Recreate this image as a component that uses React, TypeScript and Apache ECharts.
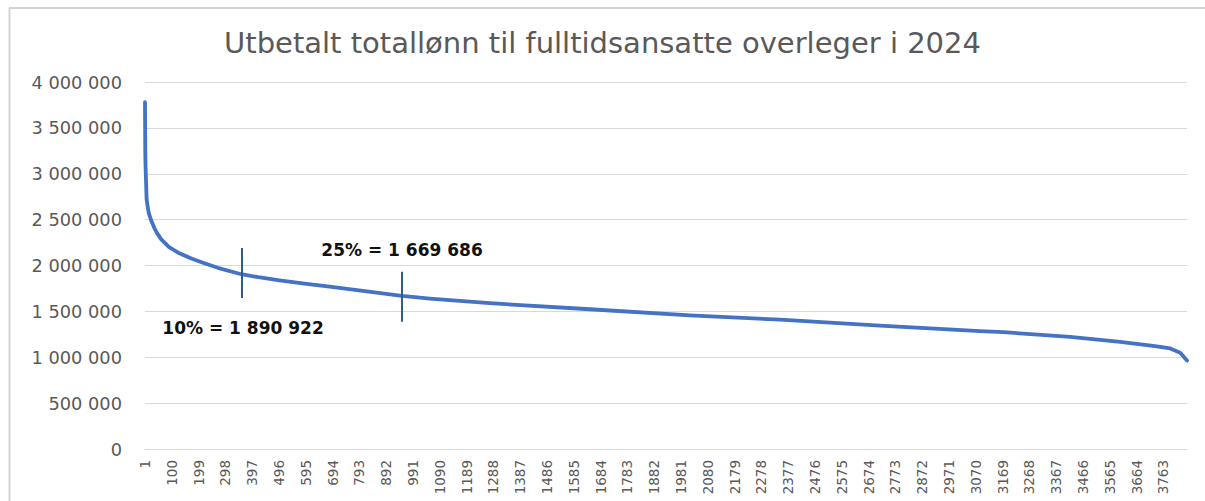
import React, { useEffect, useRef } from "react";
import * as echarts from "echarts";

const TITLE = "Utbetalt totallønn til fulltidsansatte overleger i 2024";
const COUNT = 3850;
const categories: string[] = Array.from({ length: COUNT }, (_, i) => String(i + 1));

// Points: rank -> salary (NOK)
const ranks = [1, 2, 3, 5, 7, 11, 15, 24, 36, 45, 61, 90, 128, 170, 215, 270, 357, 420, 498, 590, 683, 950, 1053, 1275, 1644, 2014, 2347, 2716, 3086, 3171, 3418, 3603, 3725, 3788, 3825, 3850];
const salaries = [3780000, 3250000, 3080000, 2900000, 2720000, 2640000, 2570000, 2490000, 2405000, 2355000, 2285000, 2200000, 2133000, 2080000, 2030000, 1975000, 1905000, 1872000, 1838000, 1803000, 1769000, 1670000, 1640000, 1589000, 1523000, 1456000, 1410000, 1345000, 1285000, 1274000, 1221000, 1167000, 1124000, 1096000, 1050000, 965000];

// Percentile markers
const markerRanks = [357, 950];
const markerTop = [2190000, 1932000];
const markerBottom = [1646000, 1388000];
const markerLabels = ["10% = 1 890 922", "25% = 1 669 686"];

const yTicks = [0, 500000, 1000000, 1500000, 2000000, 2500000, 3000000, 3500000, 4000000];

const fmt = (v: number) => String(v).replace(/\B(?=(\d{3})+(?!\d))/g, " ");

export default function App() {
  const ref = useRef<HTMLDivElement>(null);
  useEffect(() => {
    if (!ref.current) return;
    const chart = echarts.init(ref.current, undefined, { renderer: "svg" });
    const data: (number | null)[] = new Array(COUNT).fill(null);
    ranks.forEach((r, i) => {
      data[r - 1] = salaries[i];
    });
    chart.setOption({
      animation: false,
      backgroundColor: "#ffffff",
      title: {
        text: TITLE,
        left: "center",
        top: 23,
        textStyle: { fontFamily: "DejaVu Sans", fontSize: 29, fontWeight: "normal", color: "#595959" },
      },
      grid: { left: 145, right: 18, top: 82, bottom: 52 },
      xAxis: {
        type: "category",
        data: categories,
        boundaryGap: false,
        axisTick: { show: false },
        axisLine: { lineStyle: { color: "#d9d9d9", width: 1 } },
        axisLabel: {
          interval: 98,
          rotate: 90,
          margin: 11,
          fontFamily: "DejaVu Sans",
          fontSize: 13.5,
          color: "#595959",
        },
        splitLine: { show: false },
      },
      yAxis: {
        type: "value",
        min: yTicks[0],
        max: yTicks[yTicks.length - 1],
        interval: 500000,
        axisLine: { show: false },
        axisTick: { show: false },
        axisLabel: {
          margin: 23,
          fontFamily: "DejaVu Sans",
          fontSize: 17.8,
          color: "#595959",
          formatter: (v: number) => fmt(v),
        },
        splitLine: { lineStyle: { color: "#d9d9d9", width: 1 } },
      },
      series: [
        {
          type: "line",
          data,
          connectNulls: true,
          showSymbol: false,
          symbol: "none",
          lineStyle: { color: "#4472C4", width: 3.8, cap: "round", join: "round" },
          itemStyle: { color: "#4472C4" },
          markLine: {
            silent: true,
            symbol: ["none", "none"],
            label: { show: false },
            lineStyle: { color: "#2E5D8C", width: 2, type: "solid" },
            data: markerRanks.map((r, i) => [
              { coord: [categories[r - 1], markerTop[i]] },
              { coord: [categories[r - 1], markerBottom[i]] },
            ]),
          },
        },
      ],
      graphic: [
        { type: "line", shape: { x1: 9.5, y1: 8, x2: 9.5, y2: 501 }, style: { stroke: "#d4d4d4", lineWidth: 2 } },
        { type: "line", shape: { x1: 9, y1: 8, x2: 1205, y2: 8 }, style: { stroke: "#d4d4d4", lineWidth: 2 } },
        {
          type: "text",
          x: 243,
          y: 328,
          style: {
            text: markerLabels[0],
            fontFamily: "DejaVu Sans",
            fontWeight: "bold",
            fontSize: 17,
            fill: "#111111",
            align: "center",
            verticalAlign: "middle",
          },
        },
        {
          type: "text",
          x: 402,
          y: 250,
          style: {
            text: markerLabels[1],
            fontFamily: "DejaVu Sans",
            fontWeight: "bold",
            fontSize: 17,
            fill: "#111111",
            align: "center",
            verticalAlign: "middle",
          },
        },
      ],
    });
    return () => chart.dispose();
  }, []);
  return <div ref={ref} style={{ position: "fixed", left: 0, top: 0, width: 1205, height: 501 }} />;
}
